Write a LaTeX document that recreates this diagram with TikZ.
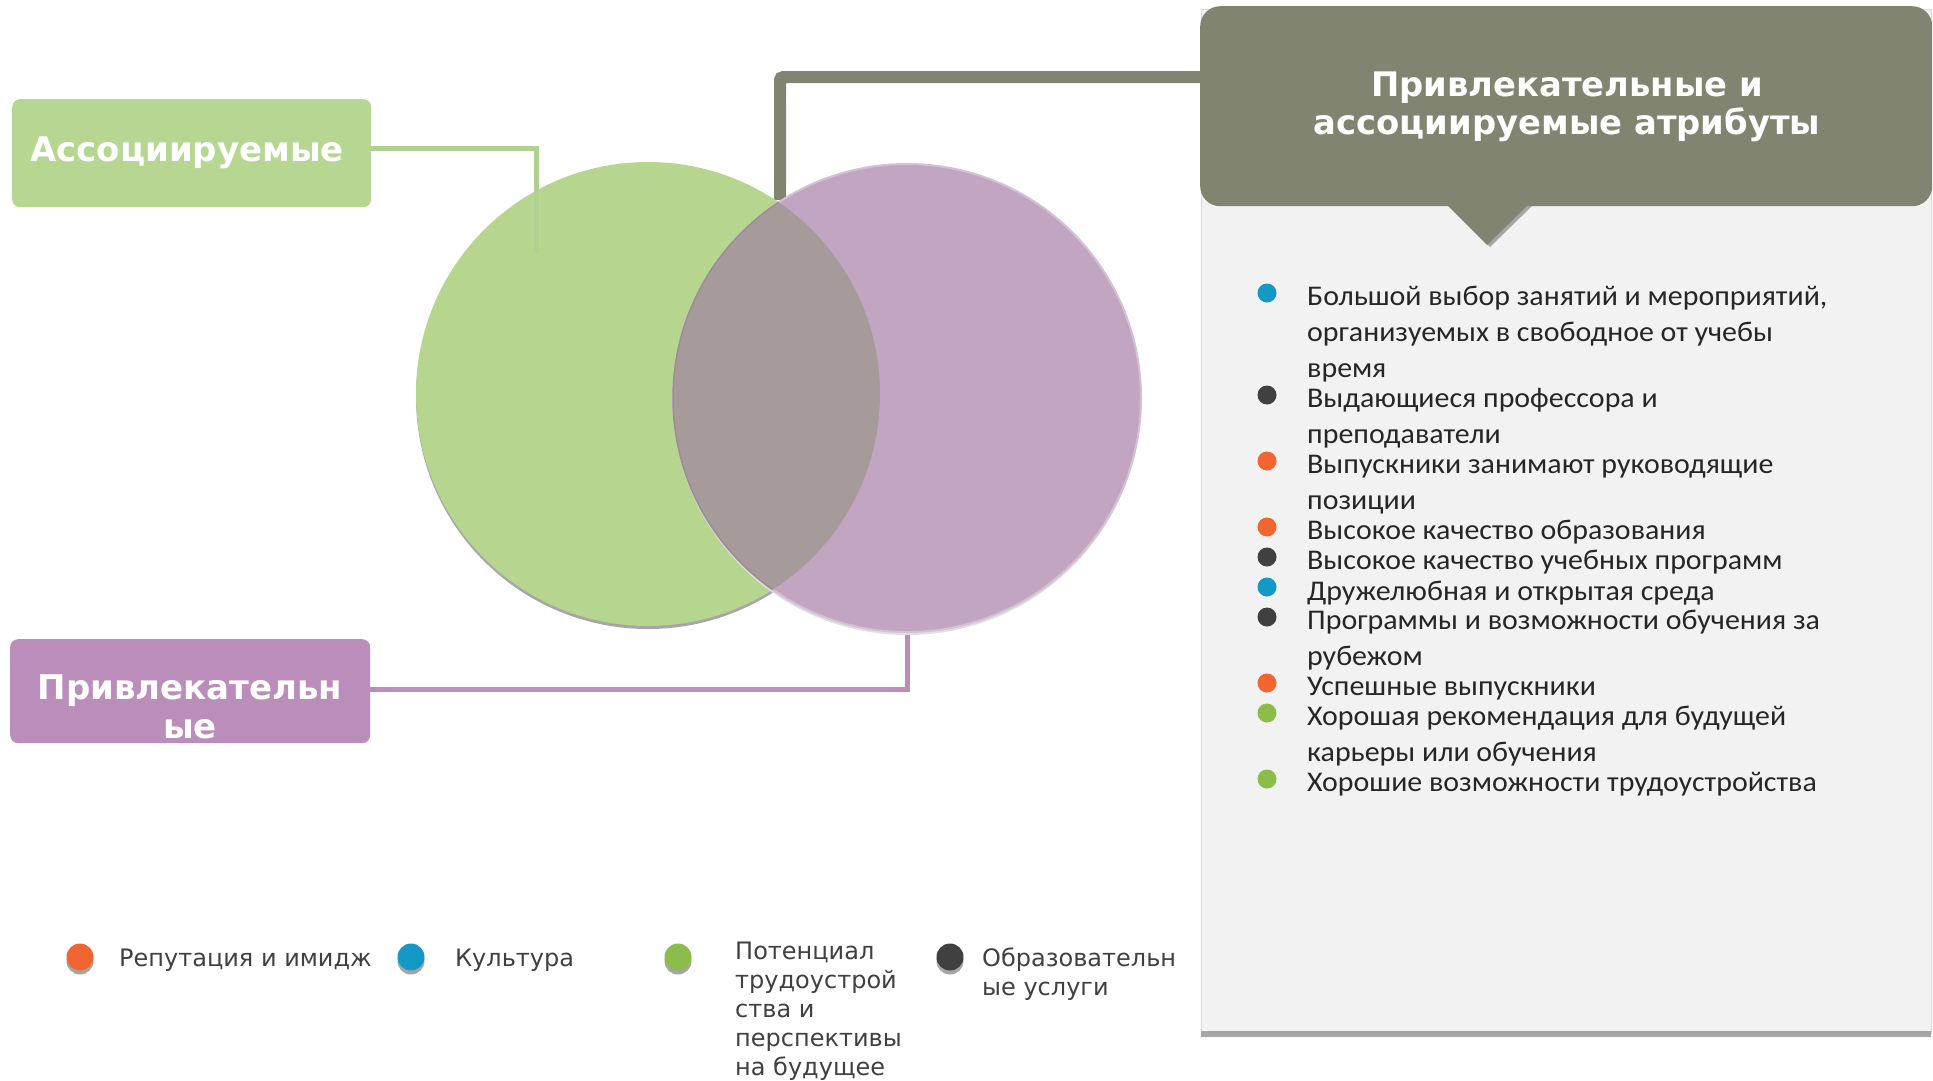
\documentclass[tikz,border=0pt]{standalone}
\usepackage{fontspec}
\setmainfont{DejaVu Sans}
\newfontfamily\listfont[FakeStretch=1.05]{Carlito}
\definecolor{greenbox}{RGB}{182,214,146}
\definecolor{greenc}{RGB}{182,214,144}
\definecolor{purpbox}{RGB}{187,141,186}
\definecolor{purpc}{RGB}{194,166,193}
\definecolor{overlapc}{RGB}{167,154,154}
\definecolor{olivec}{RGB}{128,132,112}
\definecolor{panelc}{RGB}{242,242,242}
\definecolor{panelline}{RGB}{217,217,217}
\definecolor{barc}{RGB}{166,166,166}
\definecolor{bblue}{RGB}{20,152,198}
\definecolor{bdark}{RGB}{64,64,64}
\definecolor{borange}{RGB}{242,100,48}
\definecolor{bgreen}{RGB}{139,189,74}
\definecolor{listtext}{RGB}{38,38,38}
\definecolor{legtext}{RGB}{64,64,64}
\begin{document}
\begin{tikzpicture}[x=1pt,y=-1pt,
  lbl/.style={inner sep=0,anchor=base},
  itemtext/.style={inner sep=0,anchor=base west,text=listtext,font=\listfont\fontsize{28.5}{36}\selectfont},
  bul/.style={circle,inner sep=0,minimum size=19},
  legdot/.style={circle,inner sep=0,minimum size=27},
  legtxt/.style={inner sep=0,anchor=base west,text=legtext,font=\fontsize{24}{29}\selectfont},
  boxtxt/.style={inner sep=0,anchor=base,text=white,font=\bfseries\fontsize{34}{39}\selectfont}]
\useasboundingbox (0,0) rectangle (1933,1081);
\fill[white] (0,0) rectangle (1933,1081);

% right panel
\node[fill=panelc,draw=panelline,line width=1,minimum width=730,minimum height=1024,anchor=north west,inner sep=0] (panel) at (1201,9) {};
\fill[barc] (1201,1031) rectangle (1931,1037);

% header callout
\fill[barc] (1449,206) -- (1532,206) -- (1490,247) -- cycle;
\node[fill=olivec,rounded corners=20,minimum width=732,minimum height=200,anchor=north west,inner sep=0] (attr) at (1200,6) {};
\fill[olivec] (1446,204) -- (1529,204) -- (1487,245) -- cycle;
\node[boxtxt,font=\bfseries\fontsize{33.8}{38}\selectfont] (attrtext) at (1567,96) {\parbox[t]{720pt}{\centering Привлекательные и\\ассоциируемые атрибуты}};

% connectors behind circles
\coordinate (ov) at (780,200);
\coordinate (pa) at (907,634);
\draw[olivec,line width=12,rounded corners=3] ([yshift=29pt]attr.west) -| (ov);

% left boxes
\node[fill=greenbox,rounded corners=8,minimum width=359,minimum height=108,anchor=north west,inner sep=0] (assoc) at (12,99) {};
\node[boxtxt] (assoctext) at (187,161) {Ассоциируемые};
\node[fill=purpbox,rounded corners=8,minimum width=360,minimum height=104,anchor=north west,inner sep=0] (pbox) at (10,639) {};
\node[boxtxt] (ptext) at (190,699) {\parbox[t]{340pt}{\centering Привлекательн\\ые}};
\draw[purpbox,line width=5] ([yshift=2pt]pbox.east) -| (pa);

% circles
\fill[black!35] (648,397) circle (232);
\node[circle,fill=greenc,minimum size=464,inner sep=0] (gcirc) at (648,394) {};
\fill[black!12] (907,401) circle (234);
\node[circle,fill=purpc,minimum size=468,inner sep=0] (pcirc) at (907,398) {};
\draw[purpc!70!white,line width=2] (907,398) circle (234);
\begin{scope}
  \clip (648,394) circle (232);
  \fill[overlapc] (907,398) circle (234);
  \draw[overlapc!92!black,line width=1.5] (907,398) circle (234);
\end{scope}

\coordinate (ga) at (536,253);
\draw[greenbox!97!black,line width=5] ([yshift=5pt]assoc.east) -| (ga);

% list
\node[bul,fill=bblue] (b1) at (1267,293) {};
\node[itemtext] (t1) at (1307,305) {\parbox[t]{620pt}{\raggedright Большой выбор занятий и мероприятий,\\организуемых в свободное от учебы\\время}};
\node[bul,fill=bdark] (b2) at (1267,395) {};
\node[itemtext] (t2) at (1307,407) {\parbox[t]{620pt}{\raggedright Выдающиеся профессора и\\преподаватели}};
\node[bul,fill=borange] (b3) at (1267,461) {};
\node[itemtext] (t3) at (1307,473) {\parbox[t]{620pt}{\raggedright Выпускники занимают руководящие\\позиции}};
\node[bul,fill=borange] (b4) at (1267,527) {};
\node[itemtext] (t4) at (1307,539) {Высокое качество образования};
\node[bul,fill=bdark] (b5) at (1267,557) {};
\node[itemtext] (t5) at (1307,569) {Высокое качество учебных программ};
\node[bul,fill=bblue] (b6) at (1267,587) {};
\node[itemtext] (t6) at (1307,600) {Дружелюбная и открытая среда};
\node[bul,fill=bdark] (b7) at (1267,617) {};
\node[itemtext] (t7) at (1307,629) {\parbox[t]{620pt}{\raggedright Программы и возможности обучения за\\рубежом}};
\node[bul,fill=borange] (b8) at (1267,683) {};
\node[itemtext] (t8) at (1307,695) {Успешные выпускники};
\node[bul,fill=bgreen] (b9) at (1267,713) {};
\node[itemtext] (t9) at (1307,725) {\parbox[t]{620pt}{\raggedright Хорошая рекомендация для будущей\\карьеры или обучения}};
\node[bul,fill=bgreen] (b10) at (1267,779) {};
\node[itemtext] (t10) at (1307,791) {Хорошие возможности трудоустройства};

% legend
\fill[black!35] (80,961) circle (13.5);
\node[legdot,fill=borange] (l1) at (80,957) {};
\node[legtxt] (lt1) at (119,966) {Репутация и имидж};
\fill[black!35] (411,961) circle (13.5);
\node[legdot,fill=bblue] (l2) at (411,957) {};
\node[legtxt] (lt2) at (455,966) {Культура};
\fill[black!35] (678,961) circle (13.5);
\node[legdot,fill=bgreen] (l3) at (678,957) {};
\node[legtxt] (lt3) at (735,959) {\parbox[t]{200pt}{\raggedright Потенциал\\трудоустрой\\ства и\\перспективы\\на будущее}};
\fill[black!35] (950,961) circle (13.5);
\node[legdot,fill=bdark] (l4) at (950,957) {};
\node[legtxt] (lt4) at (982,966) {\parbox[t]{200pt}{\raggedright Образовательн\\ые услуги}};
\end{tikzpicture}
\end{document}
